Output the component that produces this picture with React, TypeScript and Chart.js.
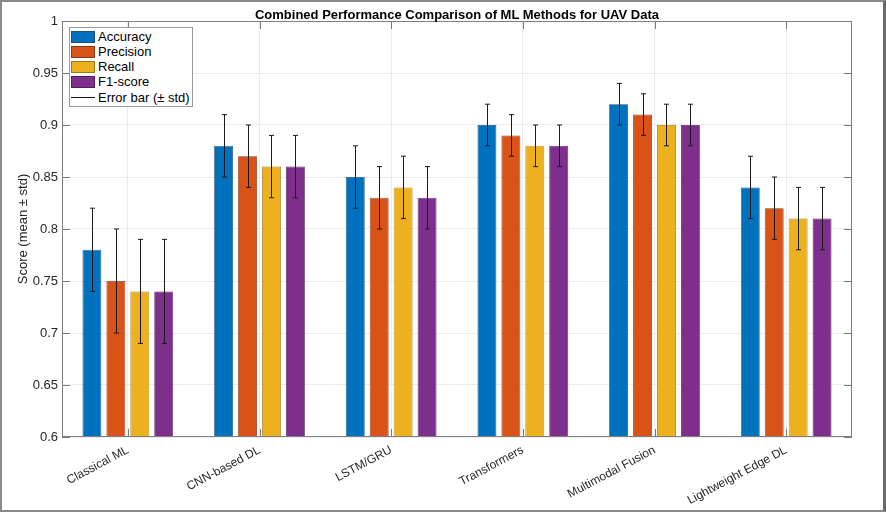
import React, { useEffect, useRef } from "react";
import { Chart, registerables, Plugin } from "chart.js";

Chart.register(...registerables);

const categories = [
  "Classical ML",
  "CNN-based DL",
  "LSTM/GRU",
  "Transformers",
  "Multimodal Fusion",
  "Lightweight Edge DL",
];

const accuracy = [0.78, 0.88, 0.85, 0.9, 0.92, 0.84];
const accuracyStd = [0.04, 0.03, 0.03, 0.02, 0.02, 0.03];
const precision = [0.75, 0.87, 0.83, 0.89, 0.91, 0.82];
const precisionStd = [0.05, 0.03, 0.03, 0.02, 0.02, 0.03];
const recall = [0.74, 0.86, 0.84, 0.88, 0.9, 0.81];
const recallStd = [0.05, 0.03, 0.03, 0.02, 0.02, 0.03];
const f1Score = [0.74, 0.86, 0.83, 0.88, 0.9, 0.81];
const f1ScoreStd = [0.05, 0.03, 0.03, 0.02, 0.02, 0.03];

const yTicks = [0.6, 0.65, 0.7, 0.75, 0.8, 0.85, 0.9, 0.95, 1];

const seriesNames = ["Accuracy", "Precision", "Recall", "F1-score"];
const colors = ["#0072BD", "#D95319", "#EDB120", "#7E2F8E"];
const edgeColors = ["#1f4f78", "#8a3a16", "#9a7a20", "#4f1f5a"];

const FONT = "'Liberation Sans', Arial, Helvetica, sans-serif";

// error bars + MATLAB-style box and inward ticks
const matlabExtras: Plugin<"bar"> = {
  id: "matlabExtras",
  afterDatasetsDraw(chart) {
    const ctx = chart.ctx;
    const y = chart.scales.y;
    ctx.save();
    ctx.strokeStyle = "#1a1a1a";
    ctx.lineWidth = 1;
    chart.data.datasets.forEach((ds: any, di) => {
      const meta = chart.getDatasetMeta(di);
      meta.data.forEach((bar: any, i) => {
        const v = ds.data[i] as number;
        const s = ds.errors[i] as number;
        const yTop = y.getPixelForValue(v + s);
        const yBot = y.getPixelForValue(v - s);
        const x = Math.round(bar.x) + 0.5;
        ctx.beginPath();
        ctx.moveTo(x, yTop);
        ctx.lineTo(x, yBot);
        ctx.moveTo(x - 2.5, yTop);
        ctx.lineTo(x + 2.5, yTop);
        ctx.moveTo(x - 2.5, yBot);
        ctx.lineTo(x + 2.5, yBot);
        ctx.stroke();
      });
    });
    ctx.restore();
  },
  afterDraw(chart) {
    const ctx = chart.ctx;
    const { left, right, top, bottom } = chart.chartArea;
    const y = chart.scales.y;
    const x = chart.scales.x;
    ctx.save();
    ctx.strokeStyle = "#808080";
    ctx.lineWidth = 1;
    ctx.strokeRect(left + 0.5, top + 0.5, right - left - 1, bottom - top - 1);
    ctx.strokeStyle = "#7a7a7a";
    ctx.beginPath();
    yTicks.forEach((t) => {
      const py = Math.round(y.getPixelForValue(t)) + 0.5;
      ctx.moveTo(left, py);
      ctx.lineTo(left + 8, py);
      ctx.moveTo(right, py);
      ctx.lineTo(right - 8, py);
    });
    categories.forEach((_, i) => {
      const px = Math.round(x.getPixelForValue(i)) + 0.5;
      ctx.moveTo(px, bottom);
      ctx.lineTo(px, bottom - 8);
      ctx.moveTo(px, top);
      ctx.lineTo(px, top + 8);
    });
    ctx.stroke();
    ctx.restore();
  },
};

export default function App() {
  const canvasRef = useRef<HTMLCanvasElement>(null);

  useEffect(() => {
    document.body.style.margin = "0";
    if (!canvasRef.current) return;
    const ctx = canvasRef.current.getContext("2d")!;

    const values = [accuracy, precision, recall, f1Score];
    const errs = [accuracyStd, precisionStd, recallStd, f1ScoreStd];

    const chart = new Chart(ctx, {
      type: "bar",
      data: {
        labels: categories,
        datasets: seriesNames.map((name, i) => ({
          label: name,
          data: values[i],
          errors: errs[i],
          backgroundColor: colors[i],
          borderColor: edgeColors[i],
          borderWidth: 0.8,
          categoryPercentage: 0.727,
          barPercentage: 0.79,
        })) as any,
      },
      options: {
        responsive: false,
        animation: false,
        layout: { padding: { left: 12, top: 21, right: 34, bottom: 0 } },
        plugins: {
          legend: { display: false },
          tooltip: { enabled: false },
          title: { display: false },
        },
        scales: {
          x: {
            offset: true,
            grid: { offset: false, color: "#ececec", drawTicks: false },
            border: { display: false },
            ticks: {
              autoSkip: false,
              minRotation: 28,
              maxRotation: 28,
              padding: 6,
              color: "#262626",
              font: { family: FONT, size: 12 },
            },
            afterFit: (scale) => {
              scale.height = 75;
            },
          },
          y: {
            min: 0.6,
            max: 1,
            grid: { color: "#ececec", drawTicks: false },
            border: { display: false },
            afterBuildTicks: (scale) => {
              scale.ticks = yTicks.map((v) => ({ value: v }));
            },
            ticks: {
              padding: 4,
              color: "#262626",
              font: { family: FONT, size: 13 },
              callback: (v) => String(Number(Number(v).toFixed(2))),
            },
            title: {
              display: true,
              text: "Score (mean ± std)",
              color: "#262626",
              font: { family: FONT, size: 13 },
            },
            afterFit: (scale) => {
              scale.width = 50;
            },
          },
        },
      },
      plugins: [matlabExtras],
    });

    return () => chart.destroy();
  }, []);

  const row: React.CSSProperties = {
    display: "flex",
    alignItems: "center",
    height: 15,
  };

  return (
    <div
      style={{
        position: "relative",
        width: 886,
        height: 512,
        background: "#fff",
        fontFamily: FONT,
      }}
    >
      <canvas
        ref={canvasRef}
        width={886}
        height={512}
        style={{ position: "absolute", left: 0, top: 0 }}
      />
      <div
        style={{
          position: "absolute",
          left: 62,
          width: 790,
          top: 7,
          textAlign: "center",
          fontWeight: "bold",
          fontSize: 13,
          lineHeight: "15px",
          color: "#000",
        }}
      >
        Combined Performance Comparison of ML Methods for UAV Data
      </div>
      <div
        style={{
          position: "absolute",
          left: 69,
          top: 27,
          width: 124,
          height: 80,
          boxSizing: "border-box",
          border: "1px solid #9a9a9a",
          background: "#fff",
          paddingTop: 1,
          fontSize: 13,
          color: "#000",
        }}
      >
        {seriesNames.map((name, i) => (
          <div key={name} style={row}>
            <span
              style={{
                display: "inline-block",
                width: 24,
                height: 12,
                marginLeft: 1,
                marginRight: 3,
                boxSizing: "border-box",
                background: colors[i],
                border: `1px solid ${edgeColors[i]}`,
              }}
            />
            {name}
          </div>
        ))}
        <div style={{ ...row, marginTop: 1 }}>
          <span
            style={{
              display: "inline-block",
              width: 24,
              height: 0,
              marginLeft: 1,
              marginRight: 3,
              borderTop: "1.5px solid #111",
            }}
          />
          Error bar (± std)
        </div>
      </div>
      <div
        style={{
          position: "absolute",
          inset: 0,
          boxSizing: "border-box",
          borderTop: "2px solid #8a8a8a",
          borderLeft: "2px solid #8a8a8a",
          borderBottom: "2px solid #8a8a8a",
          borderRight: "3px solid #6a6a6a",
          pointerEvents: "none",
        }}
      />
    </div>
  );
}
